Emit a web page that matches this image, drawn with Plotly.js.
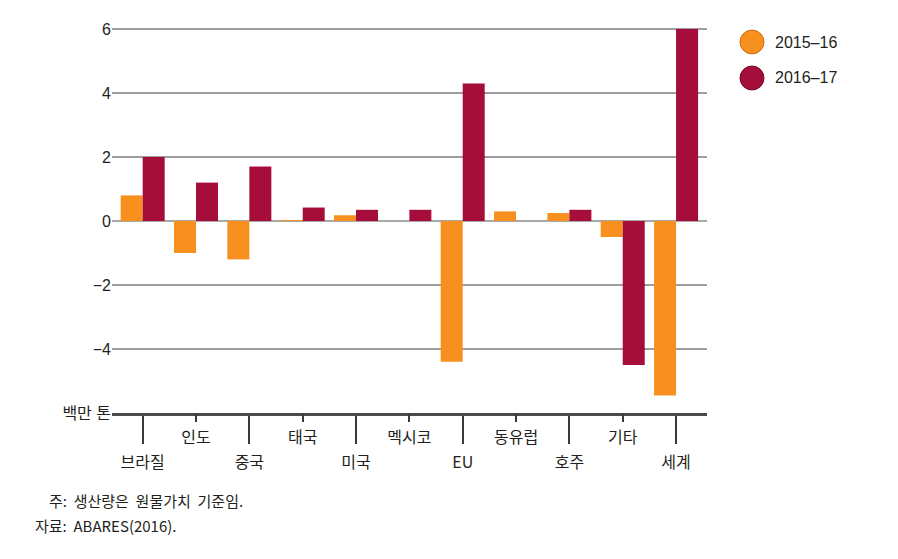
<!DOCTYPE html>
<html>
<head>
<meta charset="utf-8">
<script src="https://cdn.plot.ly/plotly-3.0.1.min.js"></script>
<style>html,body{margin:0;padding:0;background:#fff;}#chart{width:898px;height:559px;}</style>
</head>
<body>
<div id="chart"></div>
<script>
const categories = ['브라질','인도','중국','태국','미국','멕시코','EU','동유럽','호주','기타','세계'];
const seriesNames = ['2015–16','2016–17'];
const values2015 = [0.8, -1.0, -1.2, 0.03, 0.18, 0, -4.4, 0.3, 0.25, -0.5, -5.45];
const values2016 = [2.0, 1.2, 1.7, 0.42, 0.35, 0.35, 4.3, 0, 0.35, -4.5, 6.0];
const yTickValues = [-6, -4, -2, 0, 2, 4, 6];
const yTickLabels = ['백만 톤', '−4', '−2', '0', '2', '4', '6'];
const noteLines = ['주:\u00a0 생산량은\u00a0 원물가치\u00a0 기준임.', '자료:\u00a0 ABARES(2016).'];

const colors = ['#F7901E', '#A50D3B'];
const edgeColors = ['#C8701A', '#6E0A28'];
const FONT = 'Liberation Sans, Arial, "Noto Sans CJK KR", sans-serif';
const KFONT = '"Noto Sans CJK KR", "Liberation Sans", sans-serif';

const evenIdx = categories.map((c, i) => i).filter(i => i % 2 === 0);
const oddIdx = categories.map((c, i) => i).filter(i => i % 2 === 1);

const xRange = [-0.575, 10.58];

const traces = [
  {type: 'bar', name: seriesNames[0], x: categories, y: values2015,
   marker: {color: colors[0]}, hoverinfo: 'x+y'},
  {type: 'bar', name: seriesNames[1], x: categories, y: values2016,
   marker: {color: colors[1]}, hoverinfo: 'x+y'},
  {type: 'scatter', mode: 'markers', x: oddIdx, y: oddIdx.map(() => null),
   xaxis: 'x2', yaxis: 'y', hoverinfo: 'skip', showlegend: false}
];

// plot area geometry (px) for paper-coordinate helpers
const L = 112, W = 595, T = 13, H = 400;
const px = v => (v - L) / W;
const py = v => (T + H - v) / H;

const shapes = [];
const annotations = [];
seriesNames.forEach((name, i) => {
  const cy = 42 + i * 36;
  shapes.push({type: 'circle', xref: 'paper', yref: 'paper',
    x0: px(740), x1: px(764), y0: py(cy + 12), y1: py(cy - 12),
    fillcolor: colors[i], line: {color: edgeColors[i], width: 1}});
  annotations.push({xref: 'paper', yref: 'paper', x: px(773), y: py(cy),
    xanchor: 'left', yanchor: 'middle', showarrow: false, text: name,
    font: {family: FONT, size: 16, color: '#231f20'}});
});
annotations.push({xref: 'paper', yref: 'paper', x: px(47), y: py(500),
  xanchor: 'left', yanchor: 'middle', showarrow: false, text: noteLines[0],
  font: {family: KFONT, size: 15, color: '#231f20'}});
annotations.push({xref: 'paper', yref: 'paper', x: px(33), y: py(525),
  xanchor: 'left', yanchor: 'middle', showarrow: false, text: noteLines[1],
  font: {family: KFONT, size: 15, color: '#231f20'}});

const layout = {
  width: 898, height: 559,
  margin: {l: L, r: 898 - L - W, t: T, b: 559 - T - H, pad: 0},
  paper_bgcolor: '#ffffff', plot_bgcolor: '#ffffff',
  barmode: 'group', bargap: 0.175, bargroupgap: 0,
  showlegend: false,
  font: {family: FONT, size: 15, color: '#231f20'},
  xaxis: {
    type: 'category', range: xRange, fixedrange: true,
    tickmode: 'array', tickvals: evenIdx.map(i => categories[i]), ticktext: evenIdx.map(i => categories[i]),
    ticks: 'outside', ticklen: 28, tickwidth: 2, tickcolor: '#3a3a3a',
    showline: true, linecolor: '#4a4a4a', linewidth: 3,
    showgrid: false, zeroline: false, ticklabelstandoff: 5,
    tickfont: {family: KFONT, size: 16, color: '#231f20'}
  },
  xaxis2: {
    overlaying: 'x', anchor: 'y', side: 'bottom', type: 'linear', range: xRange, fixedrange: true,
    tickmode: 'array', tickvals: oddIdx, ticktext: oddIdx.map(i => categories[i]),
    ticks: 'outside', ticklen: 8, tickwidth: 2, tickcolor: '#3a3a3a',
    showline: false, showgrid: false, zeroline: false, ticklabelstandoff: 2,
    tickfont: {family: KFONT, size: 16, color: '#231f20'}
  },
  yaxis: {
    range: [-6, 6.5], fixedrange: true,
    tickmode: 'array', tickvals: yTickValues, ticktext: yTickLabels,
    ticks: '', showline: false,
    showgrid: true, gridcolor: '#9e9e9e', gridwidth: 2,
    zeroline: true, zerolinecolor: '#a8a8a8', zerolinewidth: 2,
    tickfont: {family: FONT, size: 16, color: '#231f20'}
  },
  shapes: shapes,
  annotations: annotations
};

Plotly.newPlot('chart', traces, layout, {displayModeBar: false, staticPlot: true});
</script>
</body>
</html>
